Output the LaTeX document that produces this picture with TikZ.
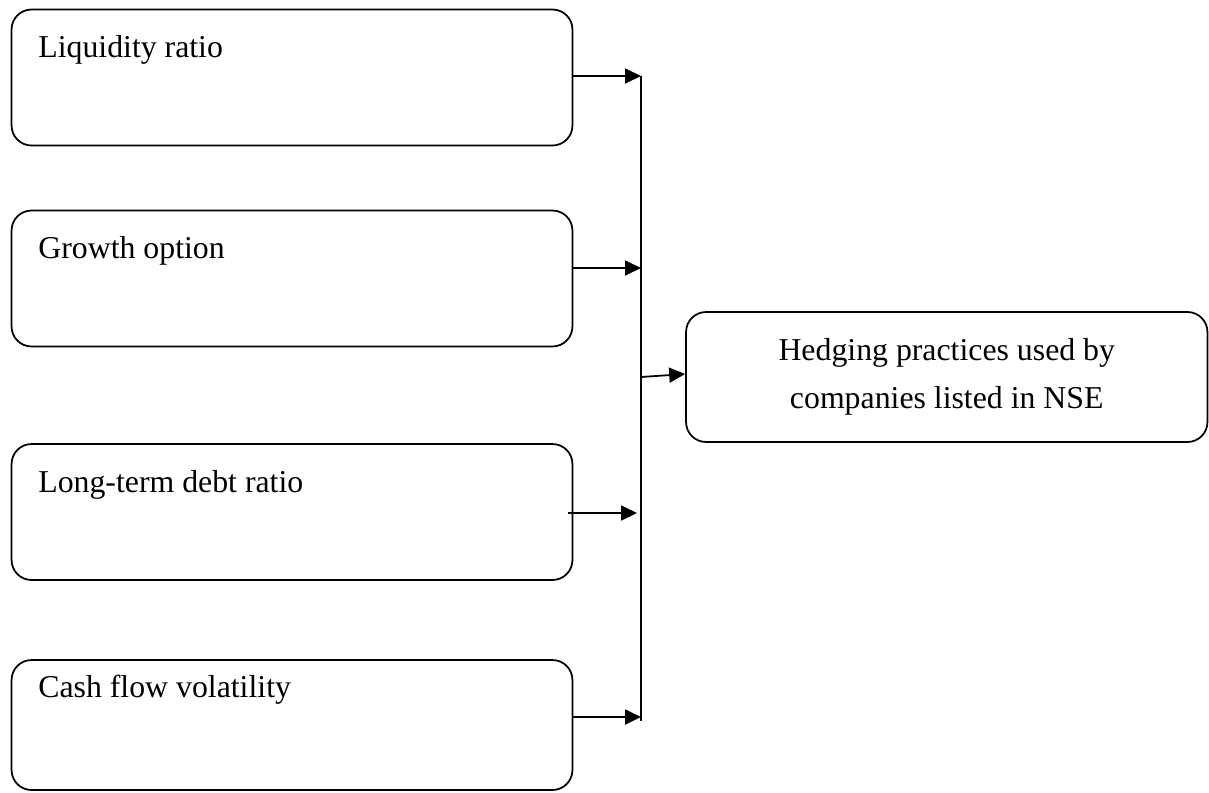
\documentclass[tikz,border=0pt]{standalone}
\usepackage{fontspec}
\setmainfont{Liberation Serif}
\usetikzlibrary{arrows.meta}
\tikzset{
	factor/.style={draw, line width=0.035cm, rounded corners=0.4cm, inner sep=0pt, minimum width=11.22cm, minimum height=2.72cm},
	label/.style={anchor=base west, inner sep=0pt, font=\fontsize{18.1pt}{27.3pt}\selectfont},
	arr/.style={line width=0.035cm, -{Triangle[length=0.32cm,width=0.3cm]}},
}
\begin{document}
\begin{tikzpicture}[x=0.02cm, y=-0.02cm]
				\useasboundingbox (0,0) rectangle (1209,792);
				
				\node[factor] (liq) at (292,77.5) {};
				\node[factor] (grow) at (292,278.5) {};
				\node[factor] (debt) at (292,512) {};
				\node[factor, minimum height=2.6cm] (cash) at (292,725) {};
				
				\node[label] (liqtext) at (38,57) {Liquidity ratio};
				\node[label] (growtext) at (38,258) {Growth option};
				\node[label] (debttext) at (38,492) {Long-term debt ratio};
				\node[label] (cashtext) at (38,697) {Cash flow volatility};
				
				\node[factor, minimum width=10.43cm, minimum height=2.6cm, align=center, font=\fontsize{18.1pt}{27.3pt}\selectfont] (hedge) at (946.75,377) {Hedging practices used by\\companies listed in NSE};
				
				\coordinate (bustop) at (641,76);
				\coordinate (busbot) at (641,721);
				\coordinate (busmid) at (641,377);
				\draw[line width=0.035cm] (bustop) -- (busbot);
				
				\draw[arr] ([yshift=0.03cm]liq.east) coordinate (a1) -- (a1 -| bustop);
				\draw[arr] ([yshift=0.21cm]grow.east) coordinate (a2) -- (a2 -| bustop);
				\draw[arr] ([xshift=-0.1cm, yshift=-0.02cm]debt.east) coordinate (a3) -- ([xshift=-0.08cm]a3 -| bustop);
				\draw[arr] ([yshift=0.16cm]cash.east) coordinate (a4) -- (a4 -| bustop);
				\draw[arr] (busmid) -- ([yshift=0.06cm]hedge.west);
			\end{tikzpicture}
\end{document}
